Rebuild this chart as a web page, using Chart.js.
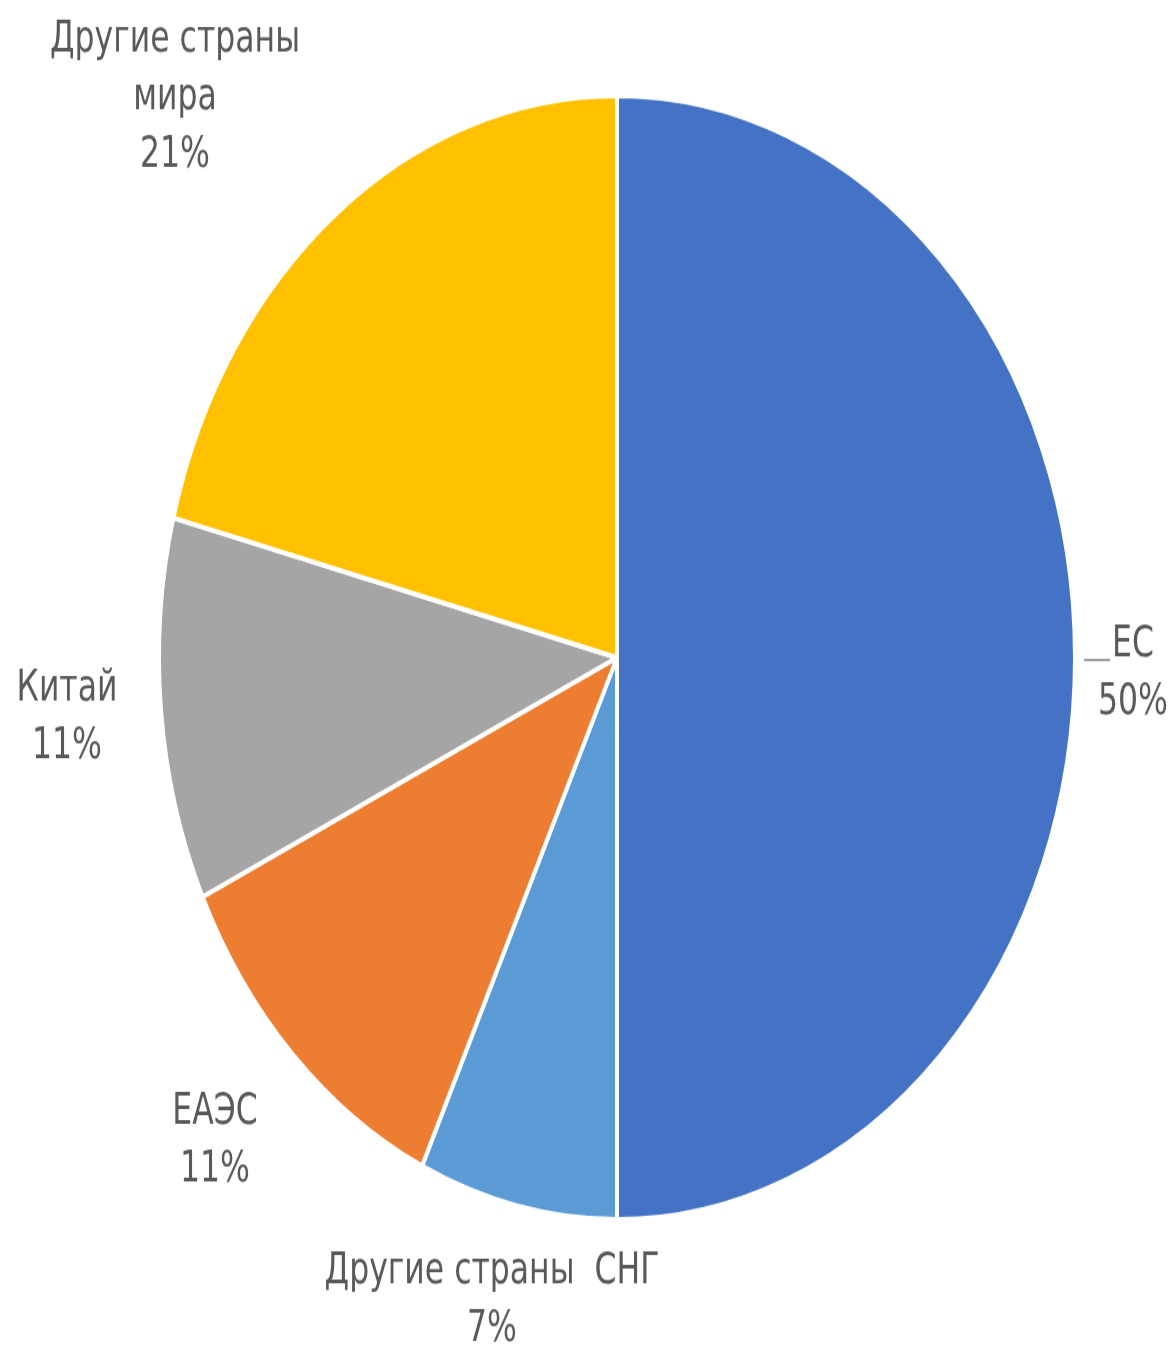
<!DOCTYPE html>
<html lang="ru">
<head>
<meta charset="utf-8">
<script src="https://cdn.jsdelivr.net/npm/chart.js@4/dist/chart.umd.min.js"></script>
<style>
    html, body { margin: 0; padding: 0; background: #fff; overflow: hidden; }
    #wrap { width: 1174px; height: 1347px; position: relative; }
    /* the original picture is stretched vertically, so the whole canvas is stretched too */
    #chart { display: block; transform: scaleY(1.2268); transform-origin: 0 0; }
</style>
</head>
<body>
<div id="wrap"><canvas id="chart" width="1174" height="1098"></canvas></div>
<script>
const categories = ["ЕС", "Другие страны  СНГ", "ЕАЭС", "Китай", "Другие страны мира"];
const shares = [50, 7, 11, 11, 21];
const sliceColors = ["#4472C4", "#5B9BD5", "#ED7D31", "#A5A5A5", "#FFC000"];

// where each label block sits (canvas coords, before the vertical stretch)
const labelSpots = [
    { x: 1133, y: 526, lines: ["ЕС"], leader: true },
    { x: 492, y: 1037, lines: ["Другие страны  СНГ"] },
    { x: 215, y: 907, lines: ["ЕАЭС"] },
    { x: 67, y: 562, lines: ["Китай"] },
    { x: 175, y: 33, lines: ["Другие страны", "мира"] }
];

const FONT = '35px "Liberation Sans Narrow", "DejaVu Sans Condensed", "Open Sans", sans-serif';
const LINE_H = 47;

const outsideLabels = {
    id: 'outsideLabels',
    afterDatasetsDraw(chart) {
        const ctx = chart.ctx;
        const data = chart.data.datasets[0].data;
        ctx.save();
        ctx.font = FONT;
        ctx.fillStyle = '#595959';
        ctx.textAlign = 'center';
        ctx.textBaseline = 'middle';
        labelSpots.forEach((spot, i) => {
            const lines = spot.lines.concat([data[i] + '%']);
            lines.forEach((t, k) => ctx.fillText(t, spot.x, spot.y + k * LINE_H));
            if (spot.leader) {
                const w = ctx.measureText(spot.lines[0]).width;
                const x0 = spot.x - w / 2 - 2;
                ctx.strokeStyle = '#7F7F7F';
                ctx.lineWidth = 1.5;
                ctx.beginPath();
                ctx.moveTo(x0 - 26, spot.y + 12);
                ctx.lineTo(x0, spot.y + 12);
                ctx.stroke();
            }
        });
        ctx.restore();
    }
};

new Chart(document.getElementById('chart').getContext('2d'), {
    type: 'pie',
    data: {
        labels: categories,
        datasets: [{
            data: shares,
            backgroundColor: sliceColors,
            borderColor: '#ffffff',
            borderWidth: 4
        }]
    },
    options: {
        responsive: false,
        animation: false,
        layout: { padding: { left: 157, right: 97, top: 76, bottom: 102 } },
        plugins: {
            legend: { display: false },
            tooltip: { enabled: false }
        }
    },
    plugins: [outsideLabels]
});
</script>
</body>
</html>
